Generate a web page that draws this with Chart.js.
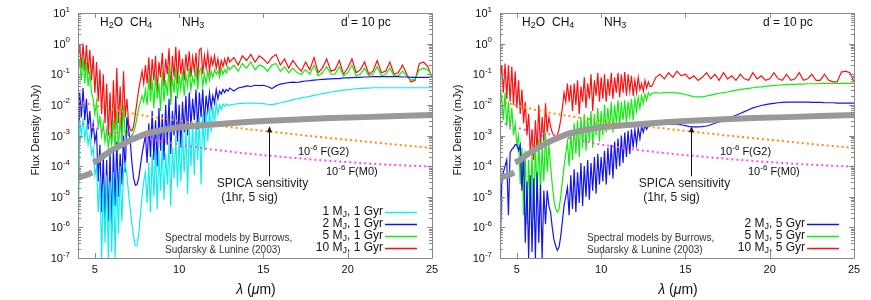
<!DOCTYPE html>
<html>
<head>
<meta charset="utf-8">
<script src="https://cdn.jsdelivr.net/npm/chart.js@4.4.1/dist/chart.umd.min.js"></script>
<style>
body { margin: 0; background: #fff; width: 871px; height: 300px; overflow: hidden; position: relative; }
canvas { position: absolute; top: 0; }
#left { left: 0; }
#right { left: 440px; }
</style>
</head>
<body>
<canvas id="left" width="440" height="300"></canvas>
<canvas id="right" width="431" height="300"></canvas>
<script>
// wavelength grid (micron), shared by all model spectra
const lambda = [
  4.0,4.1,4.2,4.3,4.4,4.5,4.6,4.7,4.8,4.9,
  5.0,5.1,5.2,5.3,5.4,5.5,5.6,5.7,5.8,5.9,
  6.0,6.1,6.2,6.3,6.4,6.5,6.6,6.7,6.8,6.9,
  7.0,7.1,7.2,7.3,7.4,7.5,7.6,7.7,7.8,7.9,
  8.0,8.1,8.2,8.3,8.4,8.5,8.6,8.7,8.8,8.9,
  9.0,9.1,9.2,9.3,9.4,9.5,9.6,9.7,9.8,9.9,
  10.0,10.1,10.2,10.3,10.4,10.5,10.6,10.7,10.8,10.9,
  11.0,11.1,11.2,11.3,11.4,11.5,11.6,11.7,11.8,11.9,
  12.0,12.1,12.2,12.3,12.4,12.5,12.6,12.7,12.8,12.9,
  13,13.25,13.5,13.75,14,14.25,14.5,14.75,
  15,15.25,15.5,15.75,16,16.25,16.5,16.75,
  17,17.25,17.5,17.75,18,18.25,18.5,18.75,
  19,19.25,19.5,19.75,20,20.25,20.5,20.75,
  21,21.25,21.5,21.75,22,22.25,22.5,22.75,
  23,23.25,23.5,23.75,24,24.25,24.5,24.75,
  25
];

// log10 flux density (mJy) at d = 10 pc, age 1 Gyr
const log1MJ_1Gyr = [
  -7.0,-2.5,-3.0,-2.45,-3.1,-2.7,-3.3,-3.0,-3.6,-3.4,
  -4.3,-4.0,-5.5,-4.4,-7.0,-4.6,-6.5,-4.3,-7.0,-4.5,
  -6.8,-4.2,-7.0,-4.4,-6.2,-4.0,-5.8,-4.2,-3.9,-4.3,
  -4.9,-5.4,-5.9,-6.3,-6.6,-6.6,-6.2,-5.6,-5.0,-4.5,
  -4.2,-5.2,-3.9,-5.5,-3.6,-5.0,-3.4,-5.4,-3.5,-4.8,
  -3.3,-5.1,-3.6,-4.6,-3.2,-5.3,-3.4,-4.4,-3.0,-4.7,
  -3.1,-4.5,-2.9,-4.2,-2.8,-4.9,-2.7,-4.0,-2.6,-4.3,
  -2.5,-3.8,-2.4,-4.6,-2.3,-3.5,-2.2,-3.2,-2.1,-2.9,
  -2.05,-2.6,-1.95,-2.3,-2.0,-2.15,-1.98,-2.05,-1.97,-2.02,
  -2.0,-1.98,-1.96,-1.95,-1.94,-1.94,-1.94,-1.95,
  -1.96,-1.98,-1.99,-1.97,-1.93,-1.9,-1.87,-1.83,
  -1.8,-1.77,-1.75,-1.72,-1.69,-1.66,-1.63,-1.61,
  -1.58,-1.56,-1.54,-1.52,-1.5,-1.49,-1.47,-1.46,
  -1.45,-1.45,-1.44,-1.44,-1.44,-1.44,-1.44,-1.44,
  -1.44,-1.44,-1.44,-1.44,-1.44,-1.44,-1.44,-1.44,
  -1.44
];
const log2MJ_1Gyr = [
  -5.2,-1.6,-2.4,-1.45,-2.5,-1.8,-2.8,-2.2,-3.0,-2.6,
  -3.2,-2.9,-4.5,-3.3,-5.5,-3.6,-6.0,-3.8,-5.8,-3.5,
  -6.1,-3.4,-5.3,-3.2,-5.0,-3.6,-4.6,-3.0,-4.2,-2.4,
  -2.8,-3.2,-3.9,-4.4,-4.62,-4.6,-4.4,-4.0,-3.6,-3.3,
  -3.0,-3.9,-2.6,-3.7,-2.2,-3.8,-2.5,-4.0,-2.1,-3.5,
  -2.3,-3.8,-2.0,-3.3,-1.8,-3.6,-2.2,-3.0,-1.7,-3.2,
  -2.0,-3.4,-1.9,-2.9,-1.7,-3.0,-1.6,-2.7,-1.8,-2.5,
  -1.5,-2.8,-1.6,-2.4,-1.5,-2.6,-1.7,-2.2,-1.6,-2.1,
  -1.7,-1.95,-1.5,-1.8,-1.55,-1.65,-1.5,-1.6,-1.5,-1.55,
  -1.45,-1.55,-1.45,-1.42,-1.38,-1.4,-1.36,-1.37,
  -1.36,-1.4,-1.47,-1.38,-1.32,-1.3,-1.27,-1.26,
  -1.27,-1.24,-1.22,-1.21,-1.19,-1.18,-1.17,-1.16,
  -1.15,-1.14,-1.14,-1.12,-1.12,-1.11,-1.1,-1.1,
  -1.09,-1.09,-1.08,-1.08,-1.08,-1.08,-1.08,-1.08,
  -1.08,-1.09,-1.09,-1.1,-1.1,-1.1,-1.1,-1.1,
  -1.1
];
const log5MJ_1Gyr = [
  -1.0,-0.5,-1.2,-0.45,-1.3,-0.6,-1.4,-0.9,-1.6,-1.8,
  -2.3,-1.9,-2.7,-2.4,-3.0,-2.6,-3.2,-2.8,-3.4,-2.9,
  -3.3,-2.5,-3.4,-2.2,-3.5,-2.4,-3.3,-2.0,-3.0,-2.8,
  -3.0,-3.05,-3.0,-2.9,-2.7,-2.4,-2.1,-1.9,-1.7,-1.9,
  -1.5,-2.0,-1.1,-1.9,-1.2,-2.1,-1.0,-1.8,-1.3,-2.2,
  -0.9,-1.9,-1.2,-1.7,-0.7,-2.0,-1.1,-1.6,-0.8,-1.8,
  -1.0,-1.5,-0.9,-1.7,-1.0,-1.4,-0.8,-1.5,-1.1,-1.3,
  -0.85,-1.5,-0.9,-0.8,-1.4,-1.0,-1.3,-0.9,-1.2,-0.9,
  -1.1,-0.85,-1.0,-0.9,-1.1,-0.8,-1.0,-0.85,-0.95,-0.75,
  -0.85,-0.7,-0.9,-0.65,-0.8,-0.6,-0.85,-0.7,
  -0.75,-0.9,-0.7,-0.65,-0.9,-0.75,-0.95,-0.8,
  -0.95,-1.0,-0.85,-1.0,-0.7,-1.05,-0.95,-0.75,
  -1.0,-1.0,-0.75,-1.05,-0.95,-0.7,-1.05,-1.0,
  -0.8,-1.05,-1.0,-0.75,-1.05,-1.0,-0.8,-1.05,
  -1.05,-0.9,-1.05,-1.2,-1.15,-0.85,-0.8,-0.85,
  -1.05
];
const log10MJ_1Gyr = [
  -0.5,-0.05,-0.8,0.0,-0.9,-0.05,-1.0,-0.2,-1.2,-0.4,
  -1.6,-0.6,-1.9,-0.85,-2.3,-1.0,-2.6,-1.3,-3.0,-1.6,
  -3.2,-1.2,-2.8,-0.8,-2.6,-1.4,-2.9,-0.9,-2.4,-1.8,
  -2.6,-2.8,-2.85,-2.7,-2.3,-1.9,-1.5,-1.2,-0.9,-1.3,
  -0.7,-1.3,-0.45,-1.5,-0.5,-1.2,-0.4,-1.6,-0.6,-1.1,
  -0.3,-1.4,-0.5,-1.0,-0.15,-1.6,-0.4,-1.1,-0.1,-1.3,
  -0.2,-1.0,-0.5,-1.2,-0.35,-0.9,-0.25,-1.1,-0.45,-0.9,
  -0.3,-1.2,-0.2,-0.15,-1.0,-0.4,-0.8,-0.3,-0.9,-0.45,
  -0.7,-0.4,-0.8,-0.5,-0.9,-0.55,-0.75,-0.5,-0.7,-0.45,
  -0.6,-0.45,-0.7,-0.4,-0.55,-0.35,-0.6,-0.4,
  -0.5,-0.65,-0.45,-0.35,-0.7,-0.5,-0.8,-0.55,
  -0.75,-0.9,-0.6,-0.85,-0.45,-0.95,-0.8,-0.5,
  -0.9,-0.85,-0.55,-1.0,-0.8,-0.5,-0.95,-0.85,
  -0.6,-1.0,-0.9,-0.55,-0.95,-0.9,-0.6,-1.0,
  -0.95,-0.7,-1.0,-1.25,-1.2,-0.65,-0.6,-0.75,
  -1.1
];

// log10 flux density (mJy), age 5 Gyr
const log2MJ_5Gyr = [
  -7.0,-4.6,-4.2,-4.0,-3.8,-5.6,-3.55,-3.45,-3.4,-3.3,
  -3.3,-3.5,-3.3,-4.8,-3.6,-6.5,-4.5,-7.0,-4.3,-6.8,
  -4.4,-7.0,-4.2,-6.5,-4.6,-7.0,-4.8,-5.9,-4.8,-5.3,
  -5.5,-6.0,-6.4,-6.6,-6.75,-6.65,-6.3,-5.8,-5.3,-5.0,
  -4.7,-5.6,-4.3,-5.4,-4.1,-5.5,-4.2,-5.2,-3.9,-5.3,
  -4.0,-5.0,-3.8,-5.1,-3.9,-4.8,-3.7,-4.9,-3.6,-4.6,
  -3.7,-4.5,-3.5,-4.6,-3.4,-4.3,-3.3,-4.4,-3.2,-4.1,
  -3.1,-4.0,-3.0,-3.9,-2.9,-3.7,-2.85,-3.6,-2.8,-3.4,
  -2.8,-3.3,-2.75,-3.1,-2.7,-2.9,-2.68,-2.8,-2.67,-2.7,
  -2.66,-2.65,-2.64,-2.63,-2.63,-2.63,-2.63,-2.65,
  -2.68,-2.71,-2.72,-2.72,-2.71,-2.69,-2.65,-2.6,
  -2.56,-2.51,-2.45,-2.4,-2.34,-2.28,-2.22,-2.16,
  -2.1,-2.06,-2.02,-1.99,-1.97,-1.95,-1.93,-1.92,
  -1.91,-1.91,-1.91,-1.91,-1.91,-1.91,-1.92,-1.92,
  -1.92,-1.93,-1.93,-1.93,-1.94,-1.94,-1.94,-1.94,
  -1.94
];
const log5MJ_5Gyr = [
  -2.1,-1.7,-2.5,-1.6,-2.7,-1.9,-2.8,-2.1,-3.0,-2.6,
  -3.3,-3.0,-4.6,-3.4,-5.6,-3.5,-5.9,-3.8,-5.5,-3.6,
  -5.7,-3.3,-5.0,-3.1,-4.8,-3.4,-4.5,-2.9,-4.2,-3.3,
  -4.0,-4.6,-5.1,-5.4,-5.5,-5.4,-5.0,-4.5,-4.0,-3.6,
  -3.2,-4.0,-2.9,-3.8,-2.6,-3.6,-2.5,-3.7,-2.4,-3.4,
  -2.3,-3.5,-2.4,-3.2,-2.2,-3.4,-2.3,-3.0,-2.1,-3.2,
  -2.2,-3.0,-2.0,-2.9,-2.1,-2.8,-1.9,-2.9,-2.0,-2.6,
  -1.85,-2.7,-1.9,-2.5,-1.85,-2.6,-1.9,-2.4,-1.8,-2.5,
  -1.8,-2.2,-1.75,-2.1,-1.7,-1.95,-1.65,-1.85,-1.6,-1.7,
  -1.62,-1.6,-1.62,-1.6,-1.6,-1.6,-1.61,-1.63,
  -1.66,-1.7,-1.73,-1.74,-1.74,-1.71,-1.68,-1.65,
  -1.62,-1.6,-1.58,-1.55,-1.52,-1.5,-1.48,-1.46,
  -1.44,-1.42,-1.41,-1.39,-1.38,-1.37,-1.36,-1.35,
  -1.34,-1.33,-1.33,-1.32,-1.32,-1.31,-1.31,-1.31,
  -1.3,-1.3,-1.3,-1.3,-1.3,-1.3,-1.3,-1.3,
  -1.3
];
const log10MJ_5Gyr = [
  -1.2,-0.7,-1.6,-0.65,-1.8,-0.7,-1.9,-0.75,-2.0,-0.9,
  -2.1,-1.2,-2.3,-1.5,-2.6,-1.9,-3.0,-2.3,-3.6,-2.8,
  -3.8,-2.5,-3.5,-2.0,-3.4,-2.4,-3.2,-1.95,-2.9,-2.4,
  -2.7,-2.9,-3.0,-3.05,-3.0,-2.8,-2.5,-2.1,-1.6,-1.9,
  -1.3,-1.9,-1.35,-2.2,-1.3,-2.0,-1.2,-2.3,-1.4,-1.9,
  -1.1,-2.1,-1.3,-1.8,-1.0,-2.2,-1.2,-1.7,-0.95,-1.9,
  -1.1,-1.8,-1.0,-1.9,-1.15,-1.7,-0.95,-1.8,-1.1,-1.6,
  -0.95,-1.75,-1.0,-1.6,-0.93,-1.7,-1.0,-1.55,-1.05,-1.7,
  -1.2,-1.6,-1.1,-1.5,-1.3,-1.55,-1.2,-1.45,-1.25,-1.4,
  -1.4,-1.1,-1.0,-1.15,-0.95,-1.1,-0.9,-1.05,
  -1.0,-1.15,-1.05,-1.2,-1.1,-0.95,-1.15,-1.0,
  -1.2,-0.95,-1.15,-1.05,-1.2,-1.0,-1.15,-1.2,
  -0.95,-1.15,-1.05,-1.2,-1.15,-0.95,-1.15,-1.2,
  -1.0,-1.2,-1.15,-0.95,-1.2,-1.15,-1.0,-1.2,
  -1.2,-1.0,-1.2,-1.25,-1.25,-0.93,-0.9,-0.95,
  -1.25
];

// SPICA 1hr 5 sigma sensitivity (null = gap between bands)
const spicaLambda = [4.0, 4.3, 4.6, 4.85, 4.87, 4.9, 5.2, 5.5, 6, 7, 8, 9, 10, 11, 12, 13, 14, 15, 17, 19, 21, 23, 25];
const spicaLog = [-4.38, -4.33, -4.27, -4.21, null, -3.88, -3.8, -3.67, -3.48, -3.18, -2.95, -2.82, -2.73, -2.68, -2.64, -2.6, -2.56, -2.53, -2.48, -2.43, -2.4, -2.36, -2.33];

// 10^-6 of stellar photospheres
const starLambda = [4, 5, 6, 7, 8, 10, 12, 14, 16, 18, 20, 22, 25];
const logG2 = [-1.88, -2.02, -2.15, -2.26, -2.36, -2.52, -2.66, -2.79, -2.91, -3.03, -3.14, -3.25, -3.41];
const logM0 = [-2.55, -2.75, -2.88, -2.97, -3.08, -3.3, -3.46, -3.59, -3.69, -3.79, -3.87, -3.94, -4.02];

const xTicks = [5, 10, 15, 20, 25];
const yDecades = [-7, -6, -5, -4, -3, -2, -1, 0, 1];

const FONT = '"Liberation Sans", Arial, Helvetica, sans-serif';
const C_CYAN = '#11eeee', C_BLUE = '#1414ee', C_GREEN = '#11ee11', C_RED = '#ff1010';

function toPoints(xs, logs) {
    return xs.map((l, i) => ({ x: l, y: logs[i] === null ? null : Math.pow(10, logs[i]) }));
}

// text made of pieces: '' normal, 'sub', 'sup', 'it'
function drawParts(ctx, x, y, parts, size, align) {
    const fontFor = k => (k === 'sub' || k === 'sup') ? Math.round(size * 0.72) + 'px ' + FONT
        : (k === 'it' ? 'italic ' : '') + size + 'px ' + FONT;
    let w = 0;
    parts.forEach(([t, k]) => { ctx.font = fontFor(k); w += ctx.measureText(t).width; });
    let cx = align === 'right' ? x - w : (align === 'center' ? x - w / 2 : x);
    ctx.textAlign = 'left';
    ctx.textBaseline = 'middle';
    parts.forEach(([t, k]) => {
        ctx.font = fontFor(k);
        const dy = k === 'sub' ? size * 0.22 : (k === 'sup' ? -size * 0.42 : 0);
        ctx.fillText(t, cx, y + dy);
        cx += ctx.measureText(t).width;
    });
    return w;
}

const gnuFrame = {
    id: 'gnuFrame',
    afterDatasetsDraw(chart, args, o) {
        const { ctx, chartArea: a } = chart;
        const xs = chart.scales.x, ys = chart.scales.y;
        ctx.save();

        // border + ticks
        ctx.strokeStyle = '#8a8a8a';
        ctx.lineWidth = 1;
        ctx.beginPath();
        ctx.rect(a.left + 0.5, a.top + 0.5, a.right - a.left, a.bottom - a.top);
        xTicks.forEach(v => {
            const px = Math.round(xs.getPixelForValue(v)) + 0.5;
            ctx.moveTo(px, a.bottom); ctx.lineTo(px, a.bottom - 5);
            ctx.moveTo(px, a.top); ctx.lineTo(px, a.top + 5);
        });
        yDecades.forEach(e => {
            for (let m = 1; m <= 9; m++) {
                if (e === 1 && m > 1) break;
                const py = Math.round(ys.getPixelForValue(m * Math.pow(10, e))) + 0.5;
                const len = m === 1 ? 5 : 3;
                ctx.moveTo(a.left, py); ctx.lineTo(a.left + len, py);
                ctx.moveTo(a.right, py); ctx.lineTo(a.right - len, py);
            }
        });
        ctx.stroke();

        ctx.fillStyle = '#111';
        xTicks.forEach(v => drawParts(ctx, xs.getPixelForValue(v), a.bottom + 12, [[String(v), '']], 11, 'center'));
        yDecades.forEach(e => drawParts(ctx, a.left - 8, ys.getPixelForValue(Math.pow(10, e)) + 1, [['10', ''], [String(e), 'sup']], 11, 'right'));

        // axis titles
        drawParts(ctx, a.left + 178, 290, [['λ', 'it'], [' (', ''], ['μ', 'it'], ['m)', '']], 14, 'center');
        ctx.save();
        ctx.translate(a.left - 42, 130);
        ctx.rotate(-Math.PI / 2);
        drawParts(ctx, 0, 0, [['Flux Density (mJy)', '']], 11, 'center');
        ctx.restore();

        // molecule bands and distance
        drawParts(ctx, a.left + 22, 23, [['H', ''], ['2', 'sub'], ['O', '']], 12, 'left');
        drawParts(ctx, a.left + 52, 23, [['CH', ''], ['4', 'sub']], 12, 'left');
        drawParts(ctx, a.left + 104, 23, [['NH', ''], ['3', 'sub']], 12, 'left');
        drawParts(ctx, a.left + 263, 23, [['d = 10 pc', '']], 12, 'left');

        // stellar labels
        drawParts(ctx, a.left + 220, 152, [['10', ''], ['-6', 'sup'], [' F(G2)', '']], 11, 'left');
        drawParts(ctx, a.left + 248, 172, [['10', ''], ['-6', 'sup'], [' F(M0)', '']], 11, 'left');

        // SPICA arrow
        const ax = Math.round(xs.getPixelForValue(o.arrowX)) + 0.5;
        const yTip = ys.getPixelForValue(Math.pow(10, -2.7));
        const yTail = ys.getPixelForValue(Math.pow(10, -4.33));
        ctx.strokeStyle = '#111';
        ctx.beginPath();
        ctx.moveTo(ax, yTail); ctx.lineTo(ax, yTip + 4);
        ctx.stroke();
        ctx.beginPath();
        ctx.moveTo(ax, yTip); ctx.lineTo(ax - 2.5, yTip + 6); ctx.lineTo(ax + 2.5, yTip + 6);
        ctx.closePath();
        ctx.fill();
        ctx.fillStyle = '#222';
        drawParts(ctx, ax - 7, 184, [['SPICA sensitivity', '']], 12, 'center');
        drawParts(ctx, ax - 20, 198, [['(1hr, 5 sig)', '']], 12, 'center');

        // credit
        ctx.fillStyle = '#333';
        drawParts(ctx, a.left + 87, 238, [['Spectral models by Burrows,', '']], 10, 'left');
        drawParts(ctx, a.left + 87, 250, [['Sudarsky & Lunine (2003)', '']], 10, 'left');

        // key
        const rows = o.key;
        rows.forEach((r, i) => {
            const y = 248 - (rows.length - 1 - i) * 12;
            ctx.fillStyle = '#111';
            drawParts(ctx, a.left + 305, y, [[r.mass + ' M', ''], ['J', 'sub'], [', ' + r.age, '']], 12, 'right');
            ctx.strokeStyle = r.color;
            ctx.lineWidth = 1.5;
            ctx.beginPath();
            ctx.moveTo(a.left + 307, y + 0.5); ctx.lineTo(a.left + 339, y + 0.5);
            ctx.stroke();
        });
        ctx.restore();
    }
};

function refDatasets() {
    return [
        { data: toPoints(spicaLambda, spicaLog), borderColor: '#999999', borderWidth: 6, spanGaps: false },
        { data: toPoints(starLambda, logM0), borderColor: '#ff4fd8', borderWidth: 2, borderDash: [2, 3] },
        { data: toPoints(starLambda, logG2), borderColor: '#ff8c10', borderWidth: 2, borderDash: [2, 3] }
    ];
}

function spectrum(logs, color) {
    return { data: toPoints(lambda, logs), borderColor: color, borderWidth: 1.2 };
}

function makePanel(id, padLeft, padRight, spectra, key) {
    new Chart(document.getElementById(id), {
        type: 'line',
        data: { datasets: refDatasets().concat(spectra) },
        options: {
            responsive: false,
            animation: false,
            devicePixelRatio: 1,
            layout: { padding: { left: padLeft, right: padRight, top: 13, bottom: 42 } },
            elements: { point: { radius: 0 }, line: { tension: 0 } },
            scales: {
                x: { type: 'linear', min: 4, max: 25, display: false },
                y: { type: 'logarithmic', min: 1e-7, max: 10, display: false }
            },
            plugins: {
                legend: { display: false },
                tooltip: { enabled: false },
                gnuFrame: { arrowX: 15.35, key: key }
            }
        },
        plugins: [gnuFrame]
    });
}

makePanel('left', 78, 8, [
    spectrum(log1MJ_1Gyr, C_CYAN),
    spectrum(log2MJ_1Gyr, C_BLUE),
    spectrum(log5MJ_1Gyr, C_GREEN),
    spectrum(log10MJ_1Gyr, C_RED)
], [
    { mass: '1', age: '1 Gyr', color: C_CYAN },
    { mass: '2', age: '1 Gyr', color: C_BLUE },
    { mass: '5', age: '1 Gyr', color: C_GREEN },
    { mass: '10', age: '1 Gyr', color: C_RED }
]);

makePanel('right', 60, 17, [
    spectrum(log2MJ_5Gyr, C_BLUE),
    spectrum(log5MJ_5Gyr, C_GREEN),
    spectrum(log10MJ_5Gyr, C_RED)
], [
    { mass: '2', age: '5 Gyr', color: C_BLUE },
    { mass: '5', age: '5 Gyr', color: C_GREEN },
    { mass: '10', age: '5 Gyr', color: C_RED }
]);
</script>
</body>
</html>
